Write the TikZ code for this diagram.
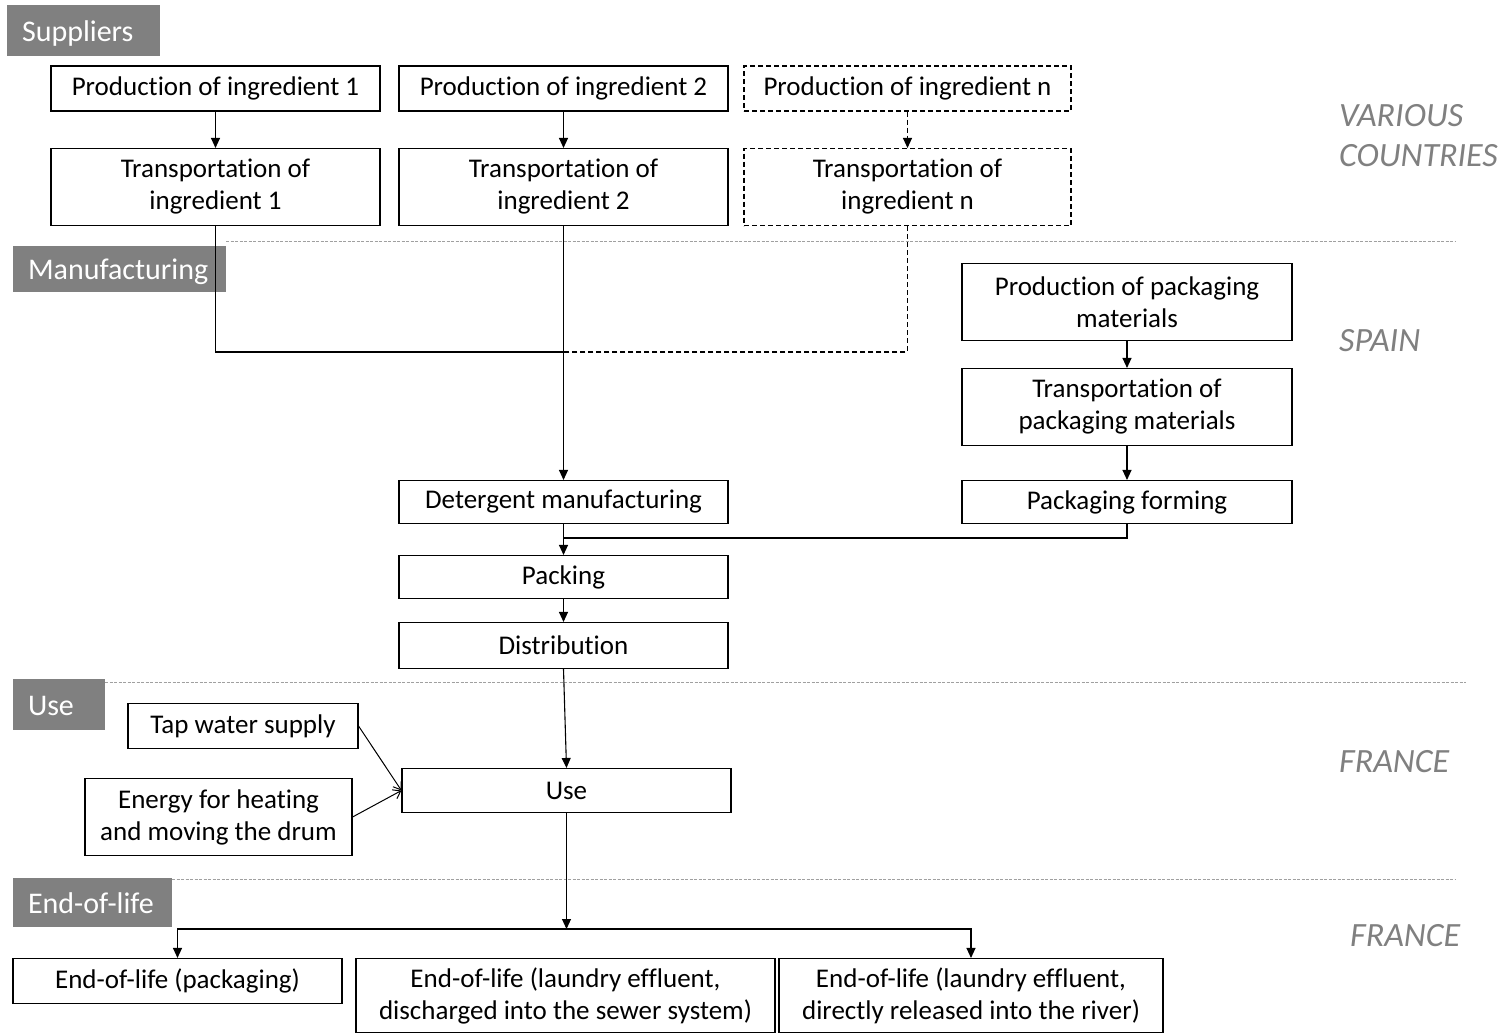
\documentclass[tikz,border=0pt]{standalone}
\usepackage{fontspec}
\setmainfont{Carlito}[Ligatures=NoCommon]
\usetikzlibrary{arrows.meta}
\definecolor{lbl}{HTML}{808080}
\definecolor{sep}{HTML}{A0A0A0}
\tikzset{
 box/.style={draw=black, line width=1.1pt, fill=white, inner sep=0pt, align=center, font=\fontsize{27}{32}\selectfont, text=black},
 dbox/.style={box, dash pattern=on 5pt off 3pt},
 phase/.style={fill=lbl, text=white, inner sep=0pt, font=\fontsize{30}{34}\selectfont, align=left, text height=25pt, text depth=4pt},
 region/.style={text=lbl, font=\fontsize{34}{40}\selectfont\itshape, anchor=west, align=left, inner sep=0pt},
 sepline/.style={draw=sep, line width=0.9pt, dash pattern=on 3pt off 1.5pt},
 flow/.style={line width=1.1pt, -{Triangle[length=10pt,width=9pt]}},
 link/.style={line width=1.1pt},
 dlink/.style={line width=1.1pt, dash pattern=on 5pt off 3pt},
 feed/.style={line width=1pt, -{Straight Barb[length=7pt,width=10pt]}},
}
\begin{document}
\begin{tikzpicture}[x=1pt,y=-1pt]
\fill[white] (0,0) rectangle (1508,1034);
\useasboundingbox (0,0) rectangle (1508,1034);

% separators
\draw[sepline] (226,241) -- (1456,241);
\draw[sepline] (105,682) -- (1466,682);
\draw[sepline] (172,879) -- (1456,879);

% phase labels
\node[phase, minimum width=153pt, minimum height=51pt, text width=123pt] (lsup) at (83.5,30.5) {Suppliers};
\node[phase, minimum width=213pt, minimum height=46pt, text width=183pt] (lman) at (119.5,269) {Manufacturing};
\node[phase, minimum width=92pt, minimum height=51pt, text width=62pt] (luse) at (59,704.5) {Use};
\node[phase, minimum width=159pt, minimum height=49pt, text width=129pt] (leol) at (92.5,902.5) {End-of-life};

% region labels
\node[region] (rvar) at (1339,136) {VARIOUS\\COUNTRIES};
\node[region] (rspa) at (1339,341) {SPAIN};
\node[region] (rfr1) at (1339,762) {FRANCE};
\node[region] (rfr2) at (1350,936) {FRANCE};

% boxes
\node[box, minimum width=329pt, minimum height=45pt] (p1) at (215.5,88.5) {Production of ingredient 1};
\node[box, minimum width=329pt, minimum height=45pt] (p2) at (563.5,88.5) {Production of ingredient 2};
\node[dbox, minimum width=327pt, minimum height=45pt] (pn) at (907.5,88.5) {Production of ingredient n};
\node[box, minimum width=329pt, minimum height=77pt] (t1) at (215.5,187) {Transportation of\\ingredient 1};
\node[box, minimum width=329pt, minimum height=77pt] (t2) at (563.5,187) {Transportation of\\ingredient 2};
\node[dbox, minimum width=327pt, minimum height=77pt] (tn) at (907.5,187) {Transportation of\\ingredient n};
\node[box, minimum width=330pt, minimum height=77pt] (ppm) at (1127,302) {Production of packaging\\materials};
\node[box, minimum width=330pt, minimum height=77pt] (tpm) at (1127,407) {Transportation of\\packaging materials};
\node[box, minimum width=330pt, minimum height=43pt] (pf) at (1127,502) {Packaging forming};
\node[box, minimum width=329pt, minimum height=43pt] (dm) at (563.5,502) {Detergent manufacturing};
\node[box, minimum width=329pt, minimum height=43pt] (pack) at (563.5,577) {Packing};
\node[box, minimum width=329pt, minimum height=46pt] (dist) at (563.5,645.5) {Distribution};
\node[box, minimum width=230pt, minimum height=45pt] (tap) at (243,726) {Tap water supply};
\node[box, minimum width=267pt, minimum height=77pt] (energy) at (218.5,817) {Energy for heating\\and moving the drum};
\node[box, minimum width=329pt, minimum height=44pt] (use) at (566.5,790.5) {Use};
\node[box, minimum width=329pt, minimum height=45pt] (eolp) at (177.5,981) {End-of-life (packaging)};
\node[box, minimum width=419pt, minimum height=74pt] (eols) at (565.5,995.5) {End-of-life (laundry effluent,\\discharged into the sewer system)};
\node[box, minimum width=384pt, minimum height=74pt] (eolr) at (971,995.5) {End-of-life (laundry effluent,\\directly released into the river)};

% connectors
\coordinate (j) at (563.5,352);
\coordinate (k) at (563.5,538);
\coordinate (b) at (566.5,929);
\draw[flow] (p1) -- (t1);
\draw[flow] (p2) -- (t2);
\draw[flow, dash pattern=on 5pt off 3pt] (pn) -- (tn);
\draw[link] (t1.south) |- (j);
\draw[dlink] (tn.south) |- (j) -- (dm.north);
\draw[flow] (t2.south) -- (dm.north);
\draw[flow] (ppm) -- (tpm);
\draw[flow] (tpm) -- (pf);
\draw[link] (pf.south) |- (k);
\draw[flow] (dm) -- (pack);
\draw[flow] (pack) -- (dist);
\draw[flow] (dist.south) -- (use.north);
\draw[feed] (tap.east) -- (use.west);
\draw[feed] (energy.east) -- (use.west);
\draw[flow] (use.south) -- (b);
\draw[flow] (b) -| (eolp.north);
\draw[flow] (b) -| (eolr.north);
\end{tikzpicture}
\end{document}
